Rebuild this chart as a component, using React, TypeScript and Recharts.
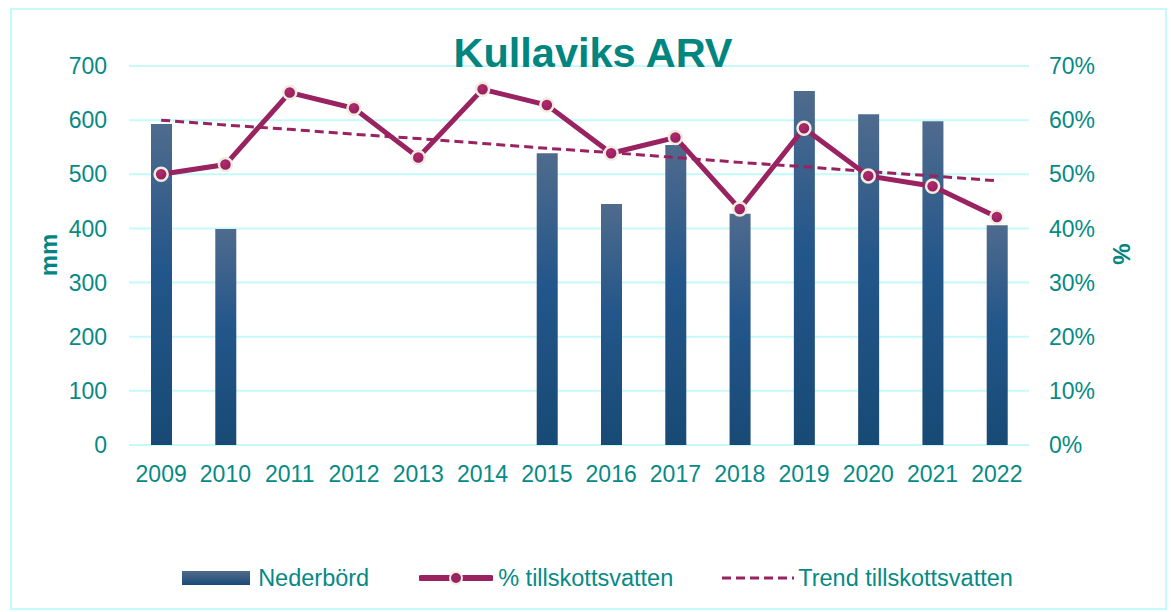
import React from 'react';
import { ComposedChart, Bar, Line, XAxis, YAxis, CartesianGrid, Legend } from 'recharts';

const years = ['2009', '2010', '2011', '2012', '2013', '2014', '2015', '2016', '2017', '2018', '2019', '2020', '2021', '2022'];
const precipitation: (number | null)[] = [593, 399, null, null, null, null, 539, 445, 554, 427, 654, 611, 598, 406];
const infiltrationPct = [50.0, 51.8, 65.1, 62.2, 53.1, 65.7, 62.8, 53.9, 56.8, 43.6, 58.5, 49.7, 47.8, 42.1];
const trendPct = [60.0, 59.1, 58.3, 57.4, 56.6, 55.7, 54.8, 54.0, 53.1, 52.2, 51.4, 50.5, 49.7, 48.8];
const mmTicks = [0, 100, 200, 300, 400, 500, 600, 700];
const pctTicks = [0, 10, 20, 30, 40, 50, 60, 70];

const data = years.map((y, i) => ({
  year: y,
  nederbord: precipitation[i],
  pct: infiltrationPct[i],
  trend: trendPct[i],
}));

const TEAL = '#00857f';
const TICK = '#068a85';
const LINE = '#992361';
const GRID = '#c6fafa';
const FONT = '"Liberation Sans", Arial, sans-serif';

const LegendContent = () => (
  <div
    style={{
      height: 40,
      display: 'flex',
      alignItems: 'center',
      justifyContent: 'center',
      fontFamily: FONT,
      fontSize: 23.5,
      color: TICK,
      paddingLeft: 24,
    }}
  >
    <div style={{ display: 'flex', alignItems: 'center' }}>
      <svg width={68} height={14} style={{ marginRight: 8 }}>
        <defs>
          <linearGradient id="legBar" x1="0" y1="0" x2="0" y2="1">
            <stop offset="0%" stopColor="#4f6b8c" />
            <stop offset="100%" stopColor="#1a4b77" />
          </linearGradient>
        </defs>
        <rect x={0} y={0} width={68} height={14} fill="url(#legBar)" />
      </svg>
      <span>Nederbörd</span>
    </div>
    <div style={{ display: 'flex', alignItems: 'center', marginLeft: 50 }}>
      <svg width={74} height={18} style={{ marginRight: 5 }}>
        <line x1={2} y1={9} x2={72} y2={9} stroke={LINE} strokeWidth={6} strokeLinecap="round" />
        <circle cx={37} cy={9} r={6} fill={LINE} stroke="#f1ece0" strokeWidth={2} />
      </svg>
      <span>% tillskottsvatten</span>
    </div>
    <div style={{ display: 'flex', alignItems: 'center', marginLeft: 48 }}>
      <svg width={74} height={10} style={{ marginRight: 3 }}>
        <line x1={1} y1={5} x2={73} y2={5} stroke={LINE} strokeWidth={3} strokeDasharray="9 5" />
      </svg>
      <span>Trend tillskottsvatten</span>
    </div>
  </div>
);

export default function App() {
  return (
    <div style={{ position: 'absolute', left: 0, top: 0, width: 1171, height: 612, background: '#fff', fontFamily: FONT }}>
      <div
        style={{
          position: 'absolute',
          left: 10,
          top: 8,
          width: 1153,
          height: 598,
          border: `2px solid ${GRID}`,
          pointerEvents: 'none',
        }}
      />
      <ComposedChart
        width={1171}
        height={612}
        data={data}
        margin={{ top: 66, right: 0, bottom: 14, left: 0 }}
        barSize={21}
      >
        <defs>
          <linearGradient id="barGrad" x1="0" y1="0" x2="0" y2="1">
            <stop offset="0%" stopColor="#4f6b8d" />
            <stop offset="45%" stopColor="#23568a" />
            <stop offset="100%" stopColor="#184a75" />
          </linearGradient>
          <radialGradient id="dotGrad" cx="0.4" cy="0.35" r="0.7">
            <stop offset="0%" stopColor="#b2296e" />
            <stop offset="100%" stopColor="#8f1c57" />
          </radialGradient>
        </defs>
        <text x={593} y={67} textAnchor="middle" fontSize={41.5} fontWeight="bold" fill={TEAL} fontFamily={FONT}>
          Kullaviks ARV
        </text>
        <CartesianGrid yAxisId="left" vertical={false} stroke={GRID} strokeWidth={2} />
        <XAxis
          dataKey="year"
          height={113}
          axisLine={false}
          tickLine={false}
          tickSize={0}
          tickMargin={21}
          interval={0}
          tick={{ fill: TICK, fontSize: 23 }}
        />
        <YAxis
          yAxisId="left"
          width={129}
          domain={[0, 700]}
          ticks={mmTicks}
          axisLine={false}
          tickLine={false}
          tickSize={0}
          tickMargin={22}
          tick={{ fill: TICK, fontSize: 23 }}
          label={() => (
            <text x={48} y={255} transform="rotate(-90 48 255)" textAnchor="middle" dominantBaseline="central" fontSize={24} fontWeight="bold" fill={TEAL}>
              mm
            </text>
          )}
        />
        <YAxis
          yAxisId="right"
          orientation="right"
          width={142}
          domain={[0, 70]}
          ticks={pctTicks}
          tickFormatter={(v: number) => `${v}%`}
          axisLine={false}
          tickLine={false}
          tickSize={0}
          tickMargin={20}
          tick={{ fill: TICK, fontSize: 23, textAnchor: 'start' }}
          label={() => (
            <text x={1121} y={254} transform="rotate(-90 1121 254)" textAnchor="middle" dominantBaseline="central" fontSize={24} fontWeight="bold" fill={TEAL}>
              %
            </text>
          )}
        />
        <Legend verticalAlign="bottom" content={LegendContent} />
        <Bar yAxisId="left" dataKey="nederbord" name="Nederbörd" fill="url(#barGrad)" isAnimationActive={false} />
        <Line
          yAxisId="right"
          dataKey="trend"
          name="Trend tillskottsvatten"
          stroke={LINE}
          strokeWidth={3}
          strokeDasharray="9 5"
          dot={false}
          activeDot={false}
          isAnimationActive={false}
        />
        <Line
          yAxisId="right"
          dataKey="pct"
          name="% tillskottsvatten"
          stroke={LINE}
          strokeWidth={5}
          dot={{ r: 6.5, fill: 'url(#dotGrad)', stroke: '#f1ece0', strokeWidth: 2.5 }}
          activeDot={false}
          isAnimationActive={false}
        />
      </ComposedChart>
    </div>
  );
}
